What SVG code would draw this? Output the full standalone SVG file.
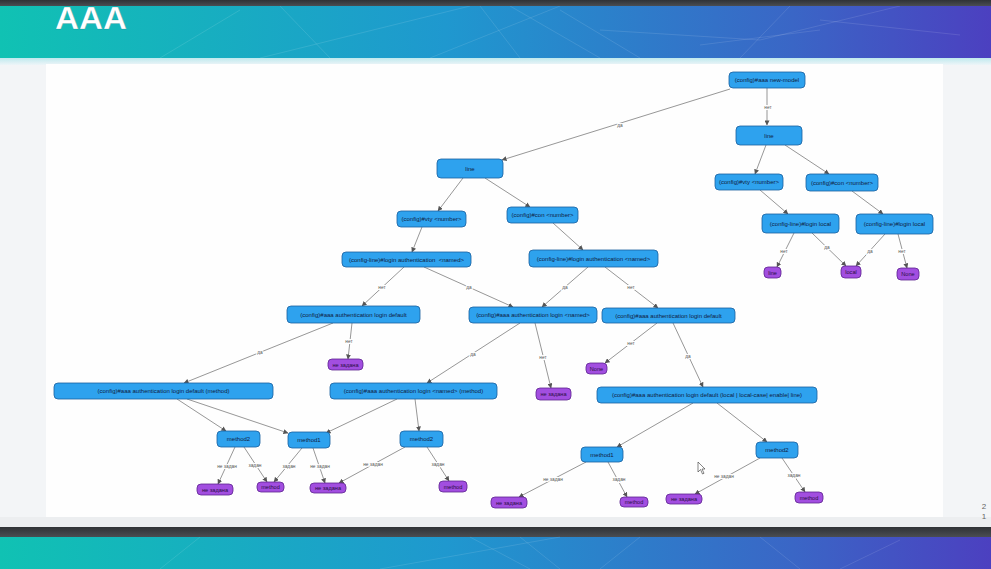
<svg xmlns="http://www.w3.org/2000/svg" width="991" height="569" viewBox="0 0 991 569">
<defs>
<linearGradient id="band" x1="0" y1="0" x2="1" y2="0">
<stop offset="0" stop-color="#10c2b3"/>
<stop offset="0.45" stop-color="#1f98cf"/>
<stop offset="0.8" stop-color="#3a66c6"/>
<stop offset="1" stop-color="#4c40c0"/>
</linearGradient>
<linearGradient id="strip" x1="0" y1="0" x2="0" y2="1">
<stop offset="0" stop-color="#bfe9ee"/>
<stop offset="1" stop-color="#eef5f8"/>
</linearGradient>
<linearGradient id="dark" x1="0" y1="0" x2="0" y2="1">
<stop offset="0" stop-color="#2f3236"/>
<stop offset="1" stop-color="#4a4d52"/>
</linearGradient>
<marker id="arr" viewBox="0 0 6 6" refX="5.5" refY="3" markerWidth="5" markerHeight="5" markerUnits="userSpaceOnUse" orient="auto">
<path d="M0,0 L6,3 L0,6 z" fill="#555"/>
</marker>
</defs>
<style>
.b{fill:#2ea2ee;stroke:#1b5f9e;stroke-width:0.8}
.p{fill:#a24ee0;stroke:#5e2590;stroke-width:0.8}
.t{font-family:"Liberation Sans",Arial,sans-serif;font-size:6px;fill:#10213f;text-anchor:middle;dominant-baseline:central}
.tp{font-family:"Liberation Sans",Arial,sans-serif;font-size:5.6px;fill:#2a0f45;text-anchor:middle;dominant-baseline:central}
.e{stroke:#6a6a6a;stroke-width:0.7;fill:none;marker-end:url(#arr)}
.l{font-family:"Liberation Sans",Arial,sans-serif;font-size:4.8px;fill:#555;text-anchor:middle;dominant-baseline:central;stroke:#fff;stroke-width:2;paint-order:stroke}
.net{stroke:#ffffff;stroke-opacity:0.14;stroke-width:0.8;fill:none}
</style>
<!-- background -->
<rect x="0" y="0" width="991" height="569" fill="#f3f5f7"/>
<rect x="0" y="6" width="991" height="52" fill="url(#band)"/>
<g class="net">
<path d="M260,58 L470,6 M430,58 L560,6 M480,6 L520,58 M510,6 L600,58 M560,10 L640,58 M280,6 L330,58 M600,30 L760,40 L900,6 M740,58 L790,6 M820,20 L960,35 M160,58 L240,10 M700,45 L820,30"/>
</g>
<rect x="0" y="58" width="991" height="7" fill="url(#strip)"/>
<rect x="0" y="0" width="991" height="6" fill="url(#dark)"/>
<text x="55" y="29" font-family="Liberation Sans,Arial,sans-serif" font-size="31" font-weight="bold" fill="#ffffff" stroke="#0a5f66" stroke-width="0.5" stroke-opacity="0.4" textLength="72" lengthAdjust="spacingAndGlyphs">AAA</text>
<rect x="46" y="64" width="897" height="453" fill="#fefefe"/>
<rect x="0" y="517" width="991" height="10" fill="#eceef0"/>
<rect x="0" y="527" width="991" height="10" fill="url(#dark)"/>
<rect x="0" y="537" width="991" height="32" fill="url(#band)"/>
<g class="net">
<path d="M380,569 L560,537 M470,537 L530,569 M520,537 L560,569 M600,569 L640,537 M160,569 L200,537 M760,537 L800,569 M840,569 L900,540"/>
</g>
<text x="984" y="509" font-family="Liberation Sans,Arial,sans-serif" font-size="8" fill="#666" text-anchor="middle">2</text>
<text x="984" y="519" font-family="Liberation Sans,Arial,sans-serif" font-size="8" fill="#666" text-anchor="middle">1</text>

<!-- connectors -->
<g id="connectors">
<line class="e" x1="730" y1="89" x2="502" y2="160"/>
<line class="e" x1="767" y1="88" x2="767" y2="125"/>
<line class="e" x1="766" y1="145" x2="755" y2="174"/>
<line class="e" x1="785" y1="145" x2="829" y2="174"/>
<line class="e" x1="760" y1="190" x2="788" y2="214"/>
<line class="e" x1="852" y1="191" x2="883" y2="214"/>
<line class="e" x1="794" y1="233" x2="777" y2="267"/>
<line class="e" x1="812" y1="233" x2="846" y2="266"/>
<line class="e" x1="885" y1="234" x2="856" y2="266"/>
<line class="e" x1="898" y1="234" x2="907" y2="268"/>
<line class="e" x1="463" y1="178" x2="438" y2="211"/>
<line class="e" x1="485" y1="178" x2="530" y2="207"/>
<line class="e" x1="422" y1="227" x2="412" y2="252"/>
<line class="e" x1="553" y1="223" x2="583" y2="250"/>
<line class="e" x1="404" y1="267" x2="362" y2="306"/>
<line class="e" x1="424" y1="267" x2="513" y2="307"/>
<line class="e" x1="588" y1="267" x2="542" y2="307"/>
<line class="e" x1="605" y1="267" x2="658" y2="308"/>
<line class="e" x1="352" y1="323" x2="348" y2="359"/>
<line class="e" x1="333" y1="323" x2="184" y2="383"/>
<line class="e" x1="520" y1="323" x2="427" y2="383"/>
<line class="e" x1="535" y1="323" x2="551" y2="388"/>
<line class="e" x1="657" y1="323" x2="605" y2="363"/>
<line class="e" x1="673" y1="323" x2="703" y2="387"/>
<line class="e" x1="177" y1="399" x2="226" y2="431"/>
<line class="e" x1="187" y1="399" x2="288" y2="433"/>
<line class="e" x1="397" y1="399" x2="326" y2="433"/>
<line class="e" x1="415" y1="399" x2="419" y2="431"/>
<line class="e" x1="693" y1="403" x2="617" y2="447"/>
<line class="e" x1="717" y1="403" x2="767" y2="442"/>
<line class="e" x1="235" y1="447" x2="218" y2="484"/>
<line class="e" x1="244" y1="447" x2="267" y2="482"/>
<line class="e" x1="302" y1="448" x2="274" y2="482"/>
<line class="e" x1="313" y1="448" x2="325" y2="483"/>
<line class="e" x1="405" y1="447" x2="339" y2="483"/>
<line class="e" x1="427" y1="447" x2="449" y2="481"/>
<line class="e" x1="586" y1="462" x2="519" y2="497"/>
<line class="e" x1="608" y1="462" x2="627" y2="497"/>
<line class="e" x1="760" y1="458" x2="695" y2="494"/>
<line class="e" x1="782" y1="458" x2="805" y2="492"/>
<text class="l" x="620" y="125">да</text>
<text class="l" x="768" y="107">нет</text>
<text class="l" x="784" y="251">нет</text>
<text class="l" x="827" y="247">да</text>
<text class="l" x="870" y="251">да</text>
<text class="l" x="902" y="251">нет</text>
<text class="l" x="382" y="287">нет</text>
<text class="l" x="469" y="287">да</text>
<text class="l" x="565" y="287">да</text>
<text class="l" x="631" y="287">нет</text>
<text class="l" x="349" y="341">нет</text>
<text class="l" x="260" y="352">да</text>
<text class="l" x="473" y="354">да</text>
<text class="l" x="543" y="357">нет</text>
<text class="l" x="631" y="343">нет</text>
<text class="l" x="688" y="356">да</text>
<text class="l" x="227" y="466">не задан</text>
<text class="l" x="255" y="465">задан</text>
<text class="l" x="289" y="466">задан</text>
<text class="l" x="320" y="466">не задан</text>
<text class="l" x="373" y="464">не задан</text>
<text class="l" x="438" y="464">задан</text>
<text class="l" x="553" y="479">не задан</text>
<text class="l" x="619" y="479">задан</text>
<text class="l" x="724" y="476">не задан</text>
<text class="l" x="794" y="475">задан</text>
</g>

<!-- right tree -->
<g id="n1"><rect class="b" x="729" y="72" width="76" height="16" rx="4"/><text class="t" x="767" y="80">(config)#aaa new-model</text></g>
<g id="n2"><rect class="b" x="736" y="126" width="66" height="19" rx="4"/><text class="t" x="769" y="135.5">line</text></g>
<g id="n3"><rect class="b" x="715" y="174" width="68" height="16" rx="4"/><text class="t" x="749" y="182">(config)#vty &lt;number&gt;</text></g>
<g id="n4"><rect class="b" x="806" y="174" width="72" height="17" rx="4"/><text class="t" x="842" y="182.5">(config)#con &lt;number&gt;</text></g>
<g id="n5"><rect class="b" x="762" y="214" width="77" height="19" rx="4"/><text class="t" x="800.5" y="223.5">(config-line)#login local</text></g>
<g id="n6"><rect class="b" x="856" y="214" width="77" height="20" rx="4"/><text class="t" x="894.5" y="224">(config-line)#login local</text></g>
<g id="p1"><rect class="p" x="764" y="267" width="17" height="11" rx="4"/><text class="tp" x="772.5" y="272.5">line</text></g>
<g id="p2"><rect class="p" x="841" y="266" width="20" height="12" rx="4"/><text class="tp" x="851" y="272">local</text></g>
<g id="p3"><rect class="p" x="897" y="268" width="22" height="12" rx="4"/><text class="tp" x="908" y="274">None</text></g>

<!-- left tree -->
<g id="n7"><rect class="b" x="437" y="159" width="66" height="19" rx="4"/><text class="t" x="470" y="168.5">line</text></g>
<g id="n8"><rect class="b" x="397" y="211" width="69" height="16" rx="4"/><text class="t" x="431.5" y="219">(config)#vty &lt;number&gt;</text></g>
<g id="n9"><rect class="b" x="507" y="207" width="71" height="16" rx="4"/><text class="t" x="542.5" y="215">(config)#con &lt;number&gt;</text></g>
<g id="n10"><rect class="b" x="342" y="252" width="129" height="15" rx="4"/><text class="t" x="406.5" y="259.5" xml:space="preserve">(config-line)#login authentication  &lt;named&gt;</text></g>
<g id="n11"><rect class="b" x="529" y="250" width="129" height="17" rx="4"/><text class="t" x="593.5" y="258.5">(config-line)#login authentication &lt;named&gt;</text></g>
<g id="n12"><rect class="b" x="287" y="306" width="133" height="17" rx="4"/><text class="t" x="353.5" y="314.5">(config)#aaa authentication login default</text></g>
<g id="n13"><rect class="b" x="469" y="307" width="128" height="16" rx="4"/><text class="t" x="533" y="315">(config)#aaa authentication login &lt;named&gt;</text></g>
<g id="n14"><rect class="b" x="602" y="308" width="133" height="15" rx="4"/><text class="t" x="668.5" y="315.5">(config)#aaa authentication login default</text></g>
<g id="p4"><rect class="p" x="328" y="359" width="35" height="11" rx="4"/><text class="tp" x="345.5" y="364.5">не задана</text></g>
<g id="p5"><rect class="p" x="586" y="363" width="21" height="11" rx="4"/><text class="tp" x="596.5" y="368.5">None</text></g>
<g id="p6"><rect class="p" x="536" y="388" width="35" height="12" rx="4"/><text class="tp" x="553.5" y="394">не задана</text></g>
<g id="n15"><rect class="b" x="54" y="383" width="219" height="16" rx="4"/><text class="t" x="163.5" y="391">(config)#aaa authentication login default (method)</text></g>
<g id="n16"><rect class="b" x="330" y="383" width="167" height="16" rx="4"/><text class="t" x="413.5" y="391">(config)#aaa authentication login &lt;named&gt; (method)</text></g>
<g id="n17"><rect class="b" x="597" y="387" width="220" height="16" rx="4"/><text class="t" x="707" y="395">(config)#aaa authentication login default (local | local-case| enable| line)</text></g>
<g id="n18"><rect class="b" x="217" y="431" width="43" height="16" rx="4"/><text class="t" x="238.5" y="439">method2</text></g>
<g id="n19"><rect class="b" x="288" y="432" width="42" height="16" rx="4"/><text class="t" x="309" y="440">method1</text></g>
<g id="n20"><rect class="b" x="400" y="431" width="43" height="16" rx="4"/><text class="t" x="421.5" y="439">method2</text></g>
<g id="n21"><rect class="b" x="581" y="447" width="42" height="15" rx="4"/><text class="t" x="602" y="454.5">method1</text></g>
<g id="n22"><rect class="b" x="756" y="442" width="42" height="16" rx="4"/><text class="t" x="777" y="450">method2</text></g>
<g id="p7"><rect class="p" x="197" y="484" width="36" height="11" rx="4"/><text class="tp" x="215" y="489.5">не задана</text></g>
<g id="p8"><rect class="p" x="257" y="482" width="27" height="10" rx="4"/><text class="tp" x="270.5" y="487">method</text></g>
<g id="p9"><rect class="p" x="310" y="483" width="36" height="10" rx="4"/><text class="tp" x="328" y="488">не задана</text></g>
<g id="p10"><rect class="p" x="439" y="481" width="28" height="11" rx="4"/><text class="tp" x="453" y="486.5">method</text></g>
<g id="p11"><rect class="p" x="491" y="497" width="36" height="11" rx="4"/><text class="tp" x="509" y="502.5">не задана</text></g>
<g id="p12"><rect class="p" x="620" y="497" width="28" height="10" rx="4"/><text class="tp" x="634" y="502">method</text></g>
<g id="p13"><rect class="p" x="666" y="494" width="36" height="10" rx="4"/><text class="tp" x="684" y="499">не задана</text></g>
<g id="p14"><rect class="p" x="795" y="492" width="28" height="11" rx="4"/><text class="tp" x="809" y="497.5">method</text></g>

<!-- mouse cursor -->
<path d="M698,462 L698,472 L700.5,469.5 L702.5,474 L704,473.3 L702,469 L705,469 Z" fill="#fff" stroke="#333" stroke-width="0.6"/>
</svg>
